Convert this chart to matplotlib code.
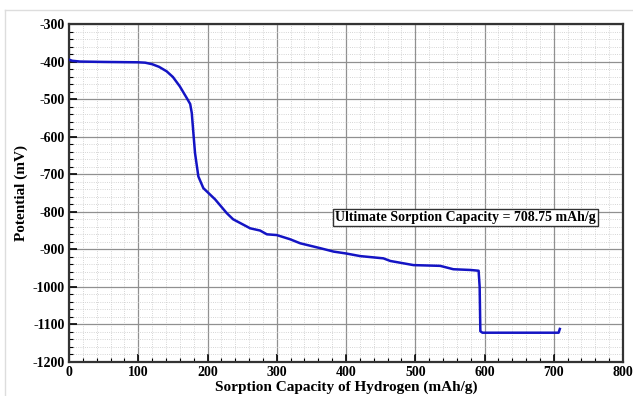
import matplotlib.pyplot as plt
from matplotlib.lines import Line2D
from matplotlib.ticker import MultipleLocator

# Potential vs sorption capacity
capacity = [0, 5, 16, 50, 100, 110, 120, 130, 141, 150, 160, 170, 175, 177.3,
            179.6, 182, 186.8, 194, 211, 228, 237, 261.6, 276, 285.7, 300, 319,
            334, 363, 382, 400, 420.5, 454, 464, 497.5, 536, 555, 580, 591.5,
            593, 594, 597, 650, 707, 708.75]
potential = [-395, -398, -400, -401, -402, -403, -407, -414, -426, -441, -466,
             -497, -513, -537, -590, -644, -706, -737, -767, -804, -820, -844,
             -850, -860, -862, -873, -884, -897, -906, -911, -918, -924, -931,
             -942, -944, -953, -955, -957, -1000, -1118, -1122, -1122, -1122,
             -1112]

ultimate = 708.75

plt.rcParams["font.family"] = ["Liberation Serif", "DejaVu Serif"]
plt.rcParams["font.weight"] = "bold"
plt.rcParams["axes.unicode_minus"] = False

fig = plt.figure(figsize=(6.33, 3.96), dpi=100)
ax = fig.add_axes([69 / 633, 1 - 362 / 396, (623 - 69) / 633, (362 - 24) / 396])

ax.plot(capacity, potential, color="#1414c4", lw=1.8, zorder=3)

ax.set_xlim(0, 800)
ax.set_ylim(-1200, -300)
ax.xaxis.set_major_locator(MultipleLocator(100))
ax.xaxis.set_minor_locator(MultipleLocator(20))
ax.yaxis.set_major_locator(MultipleLocator(100))
ax.yaxis.set_minor_locator(MultipleLocator(20))

ax.grid(which="major", color="#909090", lw=0.9, ls="-")
ax.grid(which="minor", color="#c8c8c8", lw=0.6, ls=":")
ax.set_axisbelow(True)

ax.tick_params(which="major", direction="in", length=6, width=1.2,
               labelsize=10, pad=3)
ax.tick_params(which="minor", direction="in", length=3, width=0.8)
for lbl in ax.get_xticklabels() + ax.get_yticklabels():
    lbl.set_fontweight("bold")
for sp in ax.spines.values():
    sp.set_linewidth(1.6)
    sp.set_color("#333333")

ax.set_xlabel("Sorption Capacity of Hydrogen (mAh/g)", fontsize=11,
              fontweight="bold", labelpad=1)
ax.set_ylabel("Potential (mV)", fontsize=11, fontweight="bold", labelpad=3)

ax.text(572, -815, f"Ultimate Sorption Capacity = {ultimate} mAh/g",
        ha="center", va="center", fontsize=10, fontweight="bold",
        bbox=dict(boxstyle="square,pad=0.15", fc="white", ec="#333333", lw=1),
        zorder=4)

# light outer frame of the original figure
fig.add_artist(Line2D([5 / 633, 1], [1 - 10 / 396] * 2, color="#dddddd",
                      lw=1, transform=fig.transFigure))
fig.add_artist(Line2D([5 / 633] * 2, [0, 1 - 10 / 396], color="#dddddd",
                      lw=1, transform=fig.transFigure))

fig.savefig("out.png", dpi=100)
